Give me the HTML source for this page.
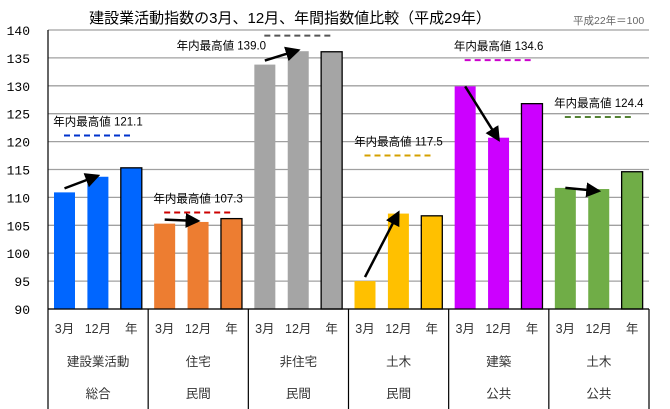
<!DOCTYPE html>
<html><head><meta charset="utf-8"><style>
body{margin:0;background:#fff;}
svg{display:block;font-family:"Liberation Sans","Noto Sans CJK JP",sans-serif;}
</style></head><body>
<svg id="c" width="670" height="409">
<defs><marker id="ah" markerWidth="6" markerHeight="6" refX="5" refY="3" orient="auto" markerUnits="strokeWidth"><path d="M0,0 L6,3 L0,6 z" fill="#000"/></marker></defs>
<text x="290" y="23" font-size="15" text-anchor="middle" fill="#000">建設業活動指数の3月、12月、年間指数値比較（平成29年）</text>
<text x="573" y="24" font-size="10.5" fill="#666">平成22年＝100</text>
<g id="grid"></g><g id="bars"></g><g id="axis"></g><g id="ann"></g>
</svg>
<script>
const categories=["建設業活動","住宅","非住宅","土木","建築","土木"];
const subcats=["総合","民間","民間","民間","公共","公共"];
const periods=["3月","12月","年"];
const march=[110.9,105.3,133.8,95.0,129.9,111.7];
const december=[113.7,105.6,136.2,107.1,120.7,111.5];
const annual=[115.3,106.2,136.1,106.7,126.8,114.6];
const yearMax=[121.1,107.3,139.0,117.5,134.6,124.4];
const yTicks=[90,95,100,105,110,115,120,125,130,135,140];
const colors=["#0066ff","#ed7d31","#a5a5a5","#ffc000","#cc00ff","#70ad47"];
const maxColors=["#0033cc","#cc0000","#555555","#d4a000","#cc00cc","#548235"];
const NS="http://www.w3.org/2000/svg";
const L=48,R=649,T=30,B=309,gw=(R-L)/6;
const y=v=>B-(v-90)/(140-90)*(B-T);
const xc=(g,i)=>L+g*gw+16.5+i*33.4;
function mk(p,t,a){const e=document.createElementNS(NS,t);for(const k in a)e.setAttribute(k,a[k]);p.appendChild(e);return e;}
const grid=document.getElementById('grid'),bars=document.getElementById('bars'),axis=document.getElementById('axis'),ann=document.getElementById('ann');
yTicks.forEach(t=>{
 const ln=mk(grid,'line',{x1:L,x2:R,y1:y(t),y2:y(t),stroke:'#a0a0a0','stroke-width':1.3});
 
 
 const tx=mk(axis,'text',{x:30,y:y(t)+5,'font-size':13,'text-anchor':'end','font-family':'Liberation Mono, monospace'});
 tx.textContent=t;
 
 
});
const series=[march,december,annual];
for(let g=0;g<6;g++){
 series.forEach((s,i)=>{
  const r=mk(bars,'rect',{x:xc(g,i)-10.5,y:y(s[g]),width:21,height:B-y(s[g]),fill:colors[g]});
  if(i==2){r.setAttribute('stroke','#000');r.setAttribute('stroke-width','1.3');}
  
  
  const tx=mk(axis,'text',{x:xc(g,i),y:333,'font-size':12.5,'text-anchor':'middle',fill:'#333'});
  tx.textContent=periods[i];
  
  
 });
 const cx=L+g*gw+gw/2;
 const c1=mk(axis,'text',{x:cx,y:366,'font-size':12.5,'text-anchor':'middle',fill:'#333'});c1.textContent=categories[g];
 
 
 const c2=mk(axis,'text',{x:cx,y:398,'font-size':12.5,'text-anchor':'middle',fill:'#333'});c2.textContent=subcats[g];
 
 
 // max line
 const my=y(yearMax[g]);
 const dl=mk(ann,'line',{x1:L+g*gw+16,x2:L+g*gw+84,y1:my,y2:my,stroke:maxColors[g],'stroke-width':2,'stroke-dasharray':'6,4'});
 
 
 let lx=L+g*gw+50,ly=my-10;
 if(g==2){lx=L+g*gw-27;ly=my+14;}
 const lt=mk(ann,'text',{x:lx,y:ly,'font-size':11.5,'text-anchor':'middle'});
 lt.textContent='年内最高値 '+yearMax[g].toFixed(1);
 
 
 // arrow
 const a=mk(ann,'line',{x1:xc(g,0),y1:y(march[g])-(march[g]<december[g]?4:0),x2:xc(g,1),y2:y(december[g])+(march[g]<december[g]?-1:2),stroke:'#000','stroke-width':2.5,'marker-end':'url(#ah)'});
 
 
}
for(let g=0;g<=6;g++){
 const ln=mk(axis,'line',{x1:L+g*gw,x2:L+g*gw,y1:g==0?T:B,y2:409,stroke:'#000','stroke-width':1.2});
 
 
}
const xa=mk(axis,'line',{x1:L,x2:R,y1:B,y2:B,stroke:'#000','stroke-width':1.2});


</script>
</body></html>
